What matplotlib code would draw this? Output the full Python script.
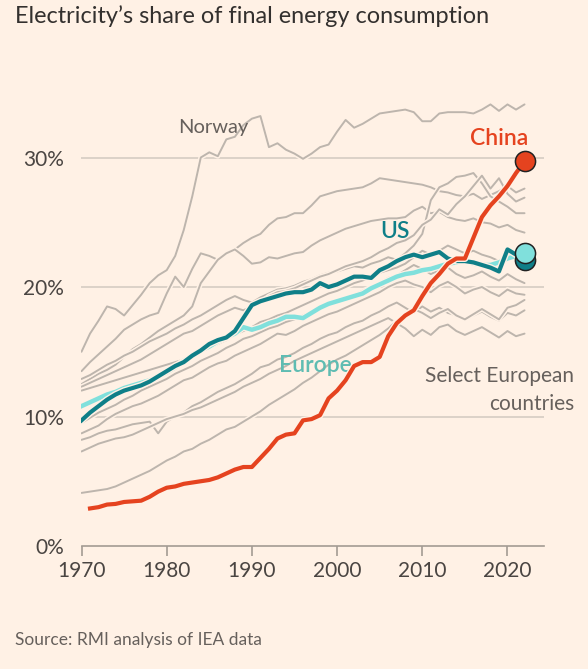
import matplotlib.pyplot as plt
import matplotlib.patheffects as pe

years = list(range(1970, 2023))
china_years = list(range(1971, 2023))

china = [2.9, 3.0, 3.2, 3.25, 3.4, 3.45, 3.5, 3.8, 4.2,
         4.5, 4.6, 4.8, 4.9, 5.0, 5.1, 5.3, 5.6, 5.9, 6.1,
         6.1, 6.8, 7.5, 8.3, 8.6, 8.7, 9.7, 9.8, 10.1, 11.4,
         12.0, 12.8, 13.9, 14.2, 14.2, 14.6, 16.2, 17.2, 17.8, 18.2,
         19.3, 20.3, 21.0, 21.8, 22.2, 22.2, 23.8, 25.4, 26.3, 27.0,
         27.8, 28.8, 29.7]

us = [9.7, 10.3, 10.8, 11.3, 11.7, 12.0, 12.2, 12.4, 12.7, 13.1,
      13.5, 13.9, 14.2, 14.7, 15.1, 15.6, 15.9, 16.1, 16.6, 17.6,
      18.6, 18.9, 19.1, 19.3, 19.5, 19.6, 19.6, 19.8, 20.3, 20.0,
      20.2, 20.5, 20.8, 20.8, 20.7, 21.3, 21.6, 22.0, 22.3, 22.5,
      22.3, 22.5, 22.7, 22.2, 22.0, 22.0, 21.9, 21.7, 21.5, 21.2,
      22.9, 22.5, 22.1]

europe = [10.8, 11.1, 11.4, 11.7, 11.9, 12.2, 12.4, 12.6, 12.8, 13.1,
          13.4, 13.8, 14.3, 14.7, 15.1, 15.4, 15.8, 16.1, 16.4, 16.9,
          16.7, 16.9, 17.2, 17.4, 17.7, 17.7, 17.6, 18.0, 18.4, 18.7,
          18.9, 19.1, 19.3, 19.5, 19.9, 20.2, 20.5, 20.8, 21.0, 21.1,
          21.3, 21.4, 21.6, 21.8, 21.9, 22.1, 21.8, 21.7, 21.7, 21.9,
          22.2, 22.4, 22.6]

norway = [15.0, 16.4, 17.4, 18.5, 18.3, 17.8, 18.6, 19.4, 20.3, 20.9,
          21.3, 22.4, 24.4, 27.0, 30.0, 30.4, 30.1, 31.4, 31.6, 32.5,
          33.0, 33.2, 30.8, 31.1, 30.6, 30.3, 29.9, 30.3, 30.8, 31.0,
          32.0, 32.9, 32.3, 32.6, 33.0, 33.4, 33.5, 33.6, 33.7, 33.5,
          32.8, 32.8, 33.4, 33.5, 33.5, 33.5, 33.4, 33.7, 34.1, 33.6,
          34.1, 33.7, 34.1]

# other European countries (grey)
sweden = [13.5, 14.2, 14.8, 15.4, 16.0, 16.7, 17.1, 17.5, 17.8, 18.0,
          19.5, 20.8, 20.0, 21.4, 22.6, 22.4, 22.1, 22.6, 22.9, 23.4,
          23.8, 24.1, 24.8, 25.3, 25.4, 25.7, 25.7, 26.3, 27.0, 27.2,
          27.4, 27.5, 27.6, 27.7, 28.0, 28.4, 28.3, 28.2, 28.1, 28.0,
          27.9, 27.7, 27.4, 27.3, 27.1, 27.0, 27.2, 26.8, 27.1, 27.4,
          27.8, 27.3, 27.6]
finland = [12.5, 12.9, 13.3, 13.6, 14.0, 14.6, 15.2, 15.6, 16.1, 16.6,
           17.0, 17.4, 17.8, 18.5, 20.3, 21.2, 22.1, 22.6, 22.9, 22.4,
           21.8, 21.9, 22.3, 22.2, 22.4, 22.6, 22.7, 23.2, 23.6, 23.9,
           24.2, 24.5, 24.7, 24.9, 25.1, 25.2, 25.3, 25.3, 25.4, 25.9,
           26.2, 25.7, 25.8, 25.4, 25.2, 25.1, 25.3, 25.0, 24.9, 24.6,
           24.8, 24.4, 24.2]
country_c = [12.9, 13.2, 13.6, 14.0, 14.3, 14.7, 15.0, 15.4, 15.8, 16.1,
             16.4, 16.8, 17.1, 17.5, 17.8, 18.2, 18.6, 19.0, 19.3, 19.0,
             18.8, 19.2, 19.5, 19.8, 19.9, 20.1, 20.4, 20.6, 20.9, 21.1,
             21.2, 21.4, 21.6, 21.5, 21.8, 22.0, 22.3, 22.1, 22.6, 23.2,
             24.1, 26.7, 27.7, 28.0, 28.5, 28.6, 28.8, 28.0, 27.0, 26.6,
             26.2, 25.7, 25.7]
country_d = [12.3, 12.6, 12.9, 13.2, 13.5, 13.8, 14.1, 14.4, 14.8, 15.2,
             15.6, 16.0, 16.4, 16.6, 17.0, 17.4, 17.8, 18.1, 18.4, 18.2,
             18.5, 18.8, 19.3, 19.6, 19.7, 19.9, 20.2, 20.5, 20.8, 21.0,
             21.3, 21.6, 21.8, 22.0, 22.3, 22.7, 23.0, 23.4, 23.6, 24.0,
             24.8, 25.2, 26.0, 25.6, 26.4, 27.0, 27.8, 28.6, 27.6, 28.4,
             27.2, 26.6, 26.9]
country_e = [12.0, 12.2, 12.4, 12.6, 12.8, 13.0, 13.2, 13.4, 13.6, 13.8,
             14.0, 14.2, 14.4, 14.7, 15.0, 15.3, 15.6, 15.9, 16.3, 16.6,
             16.9, 17.3, 17.5, 17.8, 18.0, 18.3, 18.6, 18.9, 19.2, 19.5,
             19.7, 20.0, 20.3, 20.5, 20.8, 21.1, 21.3, 21.5, 21.8, 22.3,
             22.8, 22.5, 22.8, 23.2, 22.9, 22.6, 22.8, 22.5, 22.3, 22.0,
             22.6, 22.4, 23.0]
country_f = [9.5, 9.9, 10.3, 10.6, 10.9, 11.3, 11.6, 12.0, 12.3, 12.6,
             12.9, 13.3, 13.6, 13.9, 14.3, 14.6, 14.9, 15.3, 15.6, 16.0,
             16.2, 16.5, 16.8, 17.0, 17.3, 17.5, 17.8, 18.1, 18.3, 18.6,
             18.9, 19.1, 19.4, 19.7, 20.0, 20.3, 20.7, 20.9, 21.3, 21.7,
             21.4, 21.0, 21.3, 21.5, 21.0, 20.7, 20.9, 21.2, 20.8, 20.5,
             21.0, 20.6, 20.3]
country_g = [8.7, 9.0, 9.3, 9.8, 10.2, 10.5, 10.8, 11.0, 11.3, 11.6,
             12.0, 12.4, 12.8, 13.0, 13.4, 13.8, 14.1, 14.3, 14.7, 15.0,
             15.3, 15.6, 16.0, 16.4, 16.3, 16.6, 17.0, 17.3, 17.6, 17.9,
             18.1, 18.4, 18.7, 19.0, 19.3, 19.6, 20.0, 20.3, 20.5, 20.2,
             20.0, 19.6, 20.1, 20.4, 20.0, 19.5, 19.8, 20.0, 19.6, 19.3,
             19.8, 19.5, 19.4]
country_h = [8.2, 8.4, 8.7, 8.9, 9.0, 9.2, 9.4, 9.5, 9.6, 8.7,
             9.6, 10.0, 10.3, 10.8, 11.1, 11.5, 11.9, 12.2, 12.5, 12.9,
             13.3, 13.8, 14.0, 14.4, 14.6, 14.9, 15.3, 15.6, 16.0, 16.3,
             16.5, 16.9, 17.2, 17.4, 17.8, 18.1, 18.5, 18.8, 18.4, 18.0,
             18.5, 18.1, 18.4, 18.0, 17.8, 17.5, 17.8, 18.1, 17.7, 17.4,
             18.0, 17.8, 18.2]
country_i = [7.3, 7.6, 7.9, 8.1, 8.3, 8.4, 8.6, 8.9, 9.2, 9.5,
             9.8, 10.0, 10.2, 10.5, 10.7, 11.0, 11.3, 11.6, 11.9, 12.3,
             12.6, 12.9, 13.3, 13.6, 13.9, 14.3, 14.6, 14.9, 15.2, 15.5,
             15.8, 16.1, 16.4, 16.7, 17.0, 17.3, 17.6, 17.2, 16.8, 16.2,
             16.7, 16.3, 16.9, 17.1, 16.6, 16.3, 16.6, 16.9, 16.5, 16.1,
             16.6, 16.2, 16.4]
country_j = [4.1, 4.2, 4.3, 4.4, 4.6, 4.9, 5.2, 5.5, 5.8, 6.2,
             6.6, 6.9, 7.3, 7.5, 7.9, 8.2, 8.6, 9.0, 9.2, 9.6,
             10.0, 10.4, 10.9, 11.3, 11.7, 12.1, 12.6, 13.0, 13.5, 14.0,
             14.4, 14.7, 15.1, 15.5, 15.9, 16.3, 16.8, 17.4, 17.9, 18.3,
             18.0, 17.6, 18.0, 18.3, 17.8, 17.5, 17.9, 18.3, 17.9, 17.5,
             18.4, 18.6, 19.0]

others = [sweden, finland, country_c, country_d, country_e, country_f,
          country_g, country_h, country_i, country_j]

BG = '#fff1e5'
GREY = '#bdb5ad'
RED = '#e5431f'
TEAL = '#0f7f88'
CYAN = '#80e0dc'

plt.rcParams['font.family'] = ['Lato', 'DejaVu Sans']

fig = plt.figure(figsize=(5.88, 6.69), dpi=100, facecolor=BG)
ax = fig.add_axes([81.5 / 588, 1 - 546 / 669, 462.2 / 588, 466.2 / 669])
ax.set_facecolor(BG)
ax.set_xlim(1970, 2024.25)
ax.set_ylim(0, 36)

for v in [10, 20, 30]:
    ax.axhline(v, color='#d2c9c0', lw=1.1, zorder=0)

halo = [pe.Stroke(linewidth=3.6, foreground=BG), pe.Normal()]
for s in others + [norway]:
    ax.plot(years, s, color=GREY, lw=1.4, path_effects=halo, zorder=1,
            solid_capstyle='round')

halo2 = [pe.Stroke(linewidth=5, foreground=BG), pe.Normal()]
ax.plot(years, europe, color=CYAN, lw=3.2, path_effects=halo2, zorder=3)
ax.plot(years, us, color=TEAL, lw=3.0, path_effects=halo2, zorder=4)
ax.plot(china_years, china, color=RED, lw=3.0, path_effects=halo2, zorder=5)

ax.plot([years[-1]], [us[-1]], 'o', ms=14.5, mfc=TEAL, mec='#222222', mew=1.1, zorder=6)
ax.plot([years[-1]], [europe[-1]], 'o', ms=14.5, mfc=CYAN, mec='#222222', mew=1.1, zorder=7)
ax.plot([china_years[-1]], [china[-1]], 'o', ms=14.5, mfc=RED, mec='#222222', mew=1.1, zorder=7)

for side in ['top', 'right', 'left']:
    ax.spines[side].set_visible(False)
ax.spines['bottom'].set_color('#a39b93')
ax.spines['bottom'].set_linewidth(1.2)

ax.set_xticks([1970, 1980, 1990, 2000, 2010, 2020])
ax.tick_params(axis='x', length=7.5, width=1.2, color='#a39b93', pad=3,
               labelsize=15, labelcolor='#4a4542')
ax.set_yticks([0, 10, 20, 30])
ax.set_yticklabels(['0%', '10%', '20%', '30%'])
ax.tick_params(axis='y', length=0, pad=12.5, labelsize=15, labelcolor='#4a4542')

ax.text(1981.3, 32.3, 'Norway', color='#66605c', fontsize=14.5, ha='left', va='center')
ax.text(2019.06, 31.5, 'China', color=RED, fontsize=16.5, fontweight='semibold',
        ha='center', va='center')
ax.text(2006.8, 24.25, 'US', color=TEAL, fontsize=16.5, fontweight='semibold',
        ha='center', va='center')
ax.text(1997.4, 13.9, 'Europe', color='#5fbcb2', fontsize=16.5, fontweight='semibold',
        ha='center', va='center')
ax.text(2027.8, 12.05, 'Select European\ncountries', color='#66605c', fontsize=15,
        ha='right', va='center', multialignment='right', linespacing=1.45)

fig.text(15 / 588, 1 - 16 / 669, 'Electricity\u2019s share of final energy consumption',
         fontsize=16.9, color='#33302e', ha='left', va='center')
fig.text(15 / 588, 1 - 640 / 669, 'Source: RMI analysis of IEA data',
         fontsize=12.5, color='#66605c', ha='left', va='center')

fig.savefig('out.png', dpi=100, facecolor=BG)
